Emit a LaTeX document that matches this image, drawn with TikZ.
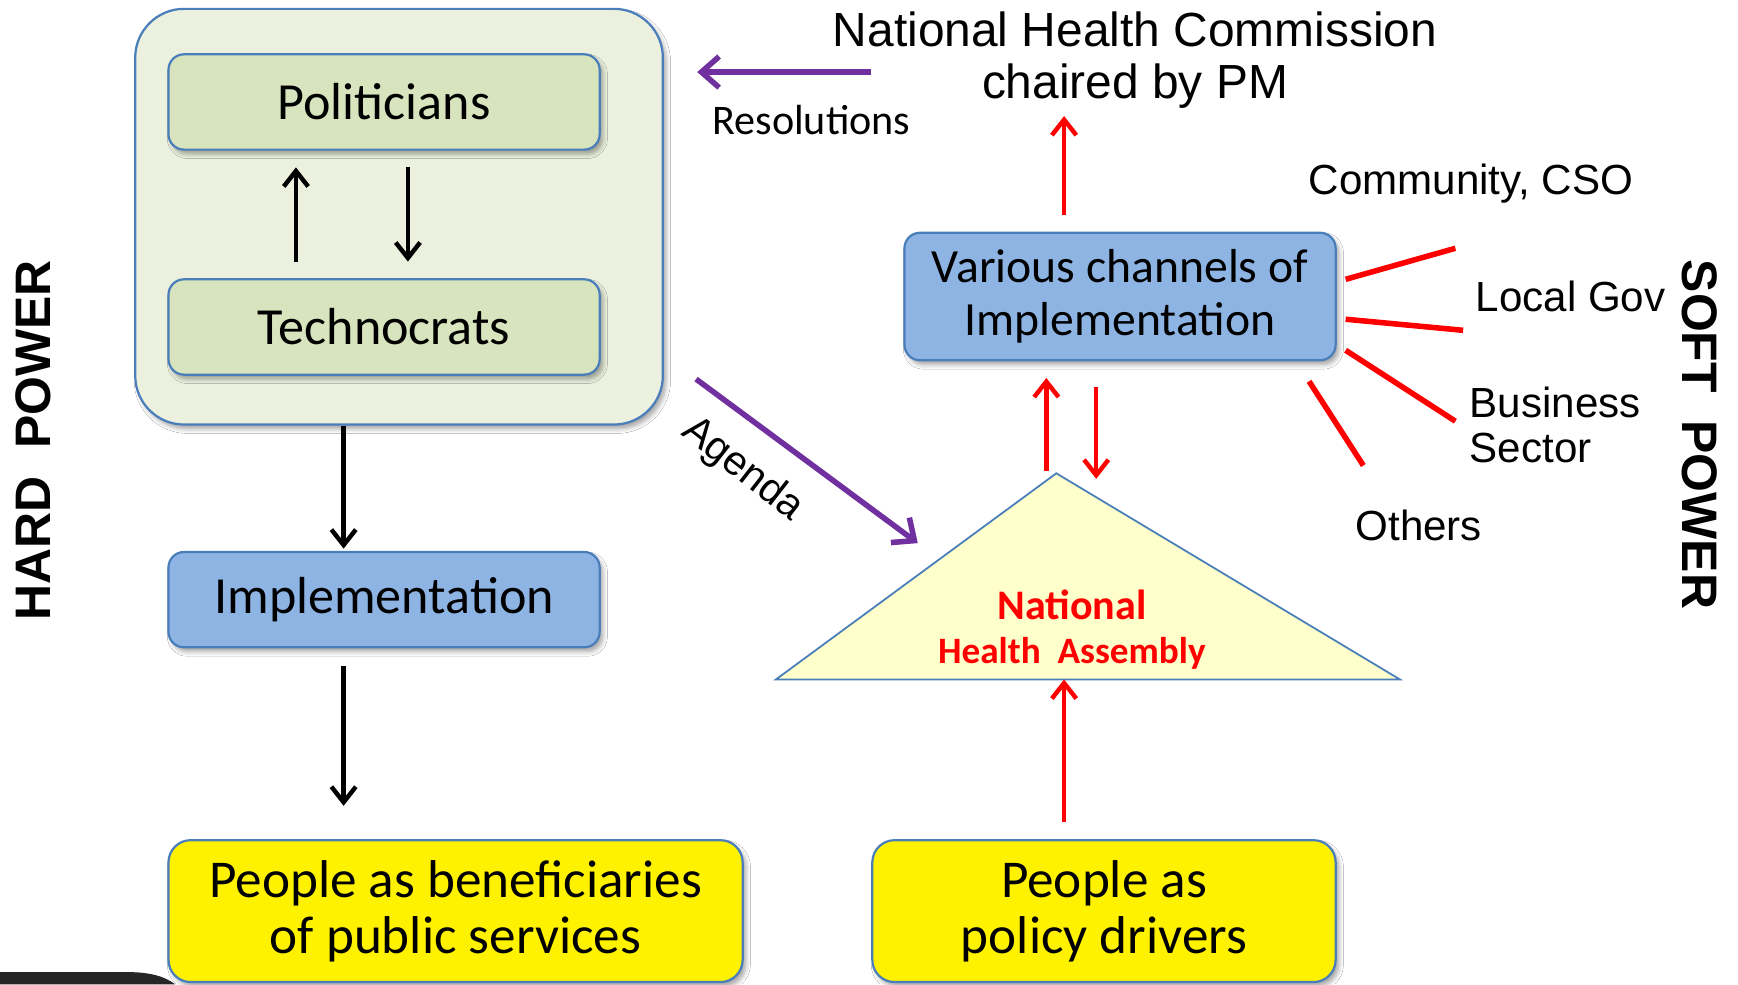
\documentclass[tikz,border=0pt]{standalone}
\usepackage{fontspec}
\setmainfont{Carlito}
\newfontfamily\arial{Liberation Sans}
\usetikzlibrary{arrows.meta,calc,shadows.blur}
\definecolor{bord}{HTML}{4A7EBB}
\definecolor{outerfill}{HTML}{EBF1DE}
\definecolor{greenfill}{HTML}{D7E4BD}
\definecolor{bluefill}{HTML}{8EB4E3}
\definecolor{trifill}{HTML}{FFFFCC}
\definecolor{purp}{HTML}{7030A0}
\definecolor{darkshape}{HTML}{262626}
\tikzset{
  shad/.style={blur shadow={shadow xshift=1.5pt, shadow yshift=-2pt, shadow blur radius=2pt, shadow opacity=35}},
  outerbox/.style={draw=bord, line width=1pt, fill=outerfill, rounded corners=22pt, minimum width=238pt, minimum height=187.5pt, shad},
  greenbox/.style={draw=bord, line width=1pt, fill=greenfill, rounded corners=7pt, minimum width=194.5pt, minimum height=43pt, font=\fontsize{23.5}{26}\selectfont, shad},
  bluebox/.style={draw=bord, line width=1pt, fill=bluefill, rounded corners=7pt, minimum width=194.5pt, shad},
  yellowbox/.style={draw=bord, line width=1pt, fill=yellow, rounded corners=10pt, align=center, font=\fontsize{24}{25.5}\selectfont, shad},
  blkarrow/.style={line width=2pt, -{Straight Barb[length=7pt,width=11pt]}},
  redarrow/.style={draw=red, line width=2pt, -{Straight Barb[length=7pt,width=11pt]}},
  purparrow/.style={draw=purp, line width=2.5pt, -{Straight Barb[length=8pt,width=14pt]}},
  fan/.style={draw=red, line width=2.5pt},
  armtext/.style={font=\arial\fontsize{19}{20.5}\selectfont},
}
\begin{document}
\begin{tikzpicture}[x=0.5pt,y=-0.5pt]
\useasboundingbox (0,0) rectangle (1568,888);
\fill[white] (0,0) rectangle (1568,888);
% dark shape bottom-left
\fill[darkshape] (0,877) -- (115,877) .. controls (138,877) and (150,882) .. (158,888) -- (0,888) -- cycle;

% left group
\node[outerbox] (grp) at (360,195.5) {};
\node[greenbox] (pol) at (346.5,92) {Politicians};
\node[greenbox] (tech) at (346.5,295) {Technocrats};
\node[bluebox, minimum height=43pt, font=\fontsize{23.5}{26}\selectfont] (impl) at (346.5,541) {Implementation};
\node[yellowbox, minimum width=259pt, minimum height=64pt] (ben) at (411,822) {People as beneficiaries\\of public services};
\node[yellowbox, minimum width=209pt, minimum height=64pt] (drv) at (996,822) {People as\\policy drivers};

% right side
\node[bluebox, minimum height=57.5pt, align=center, font=\fontsize{21.5}{24}\selectfont] (chan) at (1010.5,267.5) {Various channels of\\Implementation};
\coordinate (apex) at (953,427);
\coordinate (bl) at (700,613);
\coordinate (br) at (1263,613);
\draw[draw=bord, line width=0.8pt, fill=trifill] (apex) -- (br) -- (bl) -- cycle;
\node[align=center, text=red, font=\bfseries\fontsize{16.8}{20}\selectfont] (nha) at (967,568) {{\fontsize{19}{20}\selectfont National}\\Health\ \ Assembly};

\node[align=center, font=\arial\fontsize{21.6}{23.5}\selectfont] (nhc) at (1024,54) {National Health Commission\\chaired by PM};
\node[font=\fontsize{19}{20}\selectfont] (res) at (732,108) {Resolutions};
\node[armtext] (comm) at (1327,166) {Community, CSO};
\node[armtext] (lgov) at (1417,267) {Local Gov};
\node[armtext, anchor=west, align=left] (bus) at (1319,383.5) {Business\\Sector};
\node[armtext] (oth) at (1280,474) {Others};
\node[rotate=-90, font=\arial\bfseries\fontsize{22.5}{24}\selectfont] (soft) at (1533,392) {SOFT\ \ POWER};
\node[rotate=90, font=\arial\bfseries\fontsize{22.5}{24}\selectfont] (hard) at (30,397) {HARD\ \ POWER};
\node[rotate=-38, font=\arial\fontsize{18.5}{20}\selectfont, inner sep=0pt] (ag) at (670,424) {Agenda};

% black arrows
\draw[blkarrow, shorten <=7.5pt, shorten >=7.5pt] ([xshift=-39.75pt]tech.north) -- ([xshift=-39.75pt]pol.south);
\draw[blkarrow, shorten <=7.5pt, shorten >=7.5pt] ([xshift=10.75pt]pol.south) -- ([xshift=10.75pt]tech.north);
\draw[blkarrow, shorten >=1pt] ([xshift=-18.25pt]impl.north |- grp.south) -- ([xshift=-18.25pt]impl.north);
\draw[blkarrow, shorten <=8pt, shorten >=15pt] ([xshift=-18.25pt]impl.south) -- ([xshift=-18.25pt]impl.south |- ben.north);

% red arrows
\draw[redarrow, shorten <=7.5pt] ([xshift=-18pt]drv.north) -- ([xshift=-18pt]drv.north |- bl);
\draw[redarrow, shorten <=1pt, shorten >=7.5pt] ([xshift=-4.5pt]apex) -- ([xshift=-4.5pt]apex |- chan.south);
\coordinate (dtip) at (989,432);
\draw[redarrow, shorten <=11.5pt] (dtip |- chan.south) -- (dtip);
\draw[redarrow, shorten <=7.5pt] ([xshift=-25.25pt]chan.north) -- ([xshift=-25.25pt]chan.north |- nhc.south);

% purple arrows
\coordinate (resA) at (786,65);
\draw[purparrow, shorten >=15pt] (resA) -- (resA -| grp.east);
\coordinate (agA) at (628,342);
\coordinate (agB) at (828,490);
\draw[purparrow] (agA) -- (agB);

% fan lines
\coordinate (f1) at (1313,224);
\coordinate (f2) at (1320,298);
\coordinate (f3) at (1313,380);
\coordinate (f4) at (1230,420);
\draw[fan] ($(chan.east)+(8,-15.5)$) -- (f1);
\draw[fan] ($(chan.east)+(8,20.5)$) -- (f2);
\draw[fan] ($(chan.east)+(8,48.5)$) -- (f3);
\draw[fan] ($(chan.south east)+(-25,18)$) -- (f4);
\end{tikzpicture}
\end{document}
